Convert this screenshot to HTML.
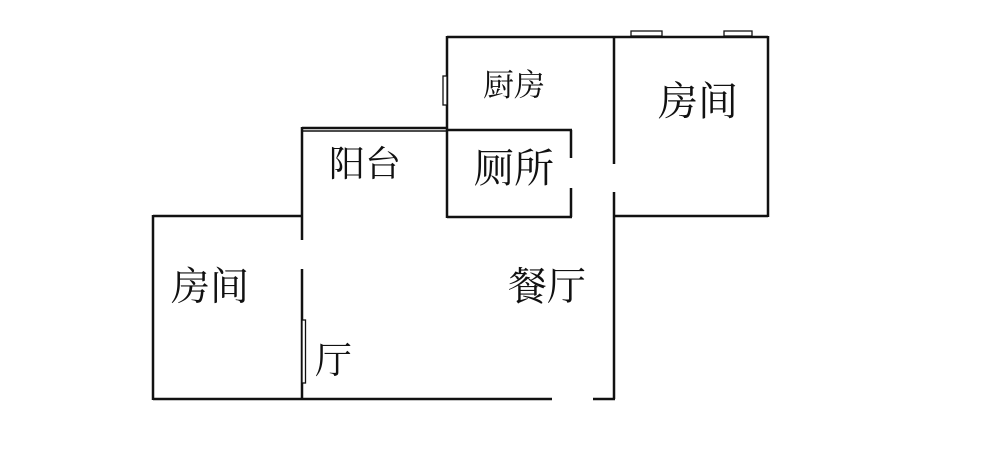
<!DOCTYPE html>
<html><head><meta charset="utf-8"><style>
body{margin:0;background:#fff;width:1000px;height:467px;overflow:hidden}
svg text{font-family:"Liberation Serif","Noto Serif CJK SC",serif;fill:#111}
</style></head><body>
<svg width="1000" height="467" viewBox="0 0 1000 467" xmlns="http://www.w3.org/2000/svg">
<g stroke="#111" stroke-width="2.5" fill="none">
<!-- kitchen/right room top -->
<line x1="447" y1="37" x2="768" y2="37"/>
<line x1="768" y1="36" x2="768" y2="217"/>
<line x1="614" y1="216" x2="768" y2="216"/>
<line x1="447" y1="36" x2="447" y2="218"/>
<line x1="614" y1="36" x2="614" y2="164"/>
<line x1="614" y1="192" x2="614" y2="399"/>
<line x1="593" y1="399" x2="615" y2="399"/>
<!-- toilet -->
<line x1="447" y1="130" x2="572" y2="130"/>
<line x1="571" y1="130" x2="571" y2="158"/>
<line x1="571" y1="188" x2="571" y2="217"/>
<line x1="447" y1="217" x2="572" y2="217"/>
<!-- balcony -->
<line x1="302" y1="128" x2="447" y2="128"/>
<line x1="302" y1="131" x2="447" y2="131" stroke-width="1.5"/>
<line x1="302" y1="127" x2="302" y2="240"/>
<line x1="302" y1="269" x2="302" y2="400"/>
<!-- left room -->
<line x1="153" y1="216" x2="302" y2="216"/>
<line x1="153" y1="215" x2="153" y2="400"/>
<line x1="153" y1="399" x2="552" y2="399"/>
</g>
<g stroke="#111" stroke-width="1.3" fill="#fff">
<rect x="631" y="31" width="31" height="5"/>
<rect x="724" y="31" width="28" height="5"/>
<rect x="443" y="76" width="4" height="29"/>
<rect x="302" y="320" width="3.5" height="63"/>
</g>
<text x="483" y="96" font-size="31">厨房</text>
<text x="658" y="115" font-size="40">房间</text>
<text x="329" y="176" font-size="36">阳台</text>
<text x="474" y="182" font-size="40">厕所</text>
<text x="171" y="300" font-size="39">房间</text>
<text x="508" y="300" font-size="39">餐厅</text>
<text x="315" y="373" font-size="37">厅</text>
</svg>
</body></html>
